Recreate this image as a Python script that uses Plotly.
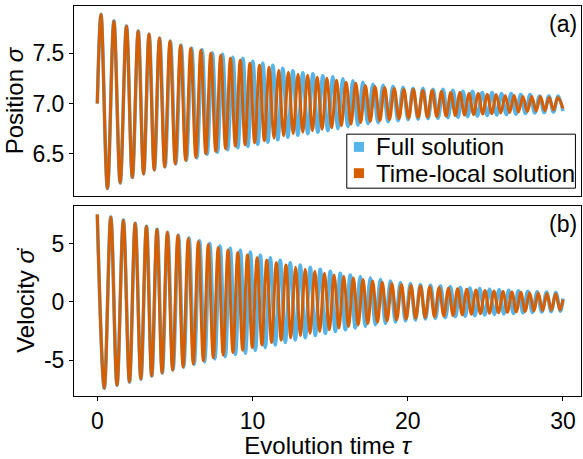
import plotly.graph_objects as go
from plotly.subplots import make_subplots

# ---------------- data: turning points ----------------
# Position, time-local solution (orange)
pos_local_peak_t = [0.24, 1.07, 1.88, 2.63, 3.33, 4.00, 4.68, 5.36, 6.02, 6.67, 7.31, 7.95, 8.58, 9.21, 9.83, 10.45, 11.07, 11.69, 12.31, 12.93, 13.55, 14.17, 14.79, 15.41, 16.03, 16.65, 17.27, 17.89, 18.51, 19.13, 19.75, 20.36, 20.97, 21.57, 22.17, 22.77, 23.36, 23.95, 24.54, 25.12, 25.70, 26.28, 26.85, 27.42, 27.99, 28.55, 29.11, 29.67]
pos_local_peak_v = [7.887, 7.82, 7.77, 7.72, 7.69, 7.65, 7.62, 7.58, 7.55, 7.53, 7.50, 7.48, 7.45, 7.43, 7.40, 7.38, 7.36, 7.33, 7.31, 7.29, 7.28, 7.26, 7.25, 7.23, 7.21, 7.20, 7.18, 7.17, 7.16, 7.15, 7.14, 7.14, 7.13, 7.13, 7.12, 7.11, 7.11, 7.10, 7.10, 7.09, 7.09, 7.08, 7.08, 7.07, 7.07, 7.07, 7.06, 7.06]
pos_local_trough_t = [0.655, 1.475, 2.255, 2.98, 3.665, 4.34, 5.02, 5.69, 6.345, 6.99, 7.63, 8.265, 8.895, 9.52, 10.14, 10.76, 11.38, 12.00, 12.62, 13.24, 13.86, 14.48, 15.10, 15.72, 16.34, 16.96, 17.58, 18.20, 18.82, 19.44, 20.055, 20.665, 21.27, 21.87, 22.47, 23.065, 23.655, 24.245, 24.83, 25.41, 25.99, 26.565, 27.135, 27.705, 28.27, 28.83, 29.39]
pos_local_trough_v = [6.156, 6.21, 6.265, 6.30, 6.34, 6.37, 6.40, 6.435, 6.465, 6.50, 6.525, 6.55, 6.575, 6.59, 6.61, 6.63, 6.655, 6.68, 6.70, 6.715, 6.73, 6.745, 6.76, 6.78, 6.795, 6.81, 6.82, 6.83, 6.84, 6.85, 6.855, 6.86, 6.865, 6.87, 6.875, 6.88, 6.885, 6.89, 6.895, 6.90, 6.905, 6.91, 6.915, 6.92, 6.925, 6.93, 6.935]
pos_local_end_t = [0.0, 30.0]
pos_local_end_v = [7.0, 6.95]

# Position, full solution (blue)
pos_full_peak_t = [0.24, 1.07, 1.88, 2.64, 3.34, 4.02, 4.71, 5.40, 6.08, 6.75, 7.41, 8.07, 8.73, 9.38, 10.02, 10.66, 11.31, 11.95, 12.60, 13.24, 13.89, 14.53, 15.18, 15.82, 16.47, 17.11, 17.76, 18.41, 19.05, 19.70, 20.34, 20.98, 21.63, 22.27, 22.91, 23.55, 24.17, 24.80, 25.43, 26.04, 26.66, 27.28, 27.88, 28.49, 29.09, 29.69]
pos_full_peak_v = [7.887, 7.82, 7.77, 7.72, 7.69, 7.65, 7.62, 7.58, 7.55, 7.535, 7.505, 7.49, 7.46, 7.45, 7.42, 7.40, 7.38, 7.35, 7.325, 7.305, 7.295, 7.275, 7.265, 7.245, 7.225, 7.21, 7.19, 7.18, 7.17, 7.16, 7.15, 7.15, 7.14, 7.14, 7.13, 7.12, 7.12, 7.11, 7.11, 7.10, 7.10, 7.09, 7.09, 7.075, 7.075, 7.075]
pos_full_trough_t = [0.655, 1.475, 2.26, 2.99, 3.68, 4.365, 5.055, 5.74, 6.415, 7.08, 7.74, 8.40, 9.055, 9.70, 10.34, 10.985, 11.63, 12.275, 12.92, 13.565, 14.21, 14.855, 15.50, 16.145, 16.79, 17.435, 18.085, 18.73, 19.375, 20.02, 20.66, 21.305, 21.95, 22.59, 23.23, 23.86, 24.485, 25.115, 25.735, 26.35, 26.97, 27.58, 28.185, 28.79, 29.39]
pos_full_trough_v = [6.156, 6.21, 6.265, 6.30, 6.34, 6.37, 6.40, 6.435, 6.46, 6.495, 6.515, 6.54, 6.56, 6.574, 6.594, 6.615, 6.64, 6.665, 6.685, 6.70, 6.715, 6.73, 6.75, 6.77, 6.785, 6.80, 6.81, 6.82, 6.83, 6.84, 6.845, 6.85, 6.855, 6.86, 6.865, 6.87, 6.875, 6.88, 6.885, 6.89, 6.895, 6.90, 6.905, 6.91, 6.915]
pos_full_end_t = [0.0, 30.0]
pos_full_end_v = [7.0, 6.925]

# Velocity, time-local solution (orange)
vel_local_peak_t = [0.87, 1.68, 2.44, 3.16, 3.84, 4.51, 5.19, 5.86, 6.51, 7.15, 7.79, 8.42, 9.05, 9.675, 10.295, 10.915, 11.535, 12.155, 12.775, 13.395, 14.015, 14.635, 15.255, 15.875, 16.495, 17.115, 17.735, 18.355, 18.975, 19.595, 20.21, 20.82, 21.42, 22.02, 22.62, 23.21, 23.80, 24.39, 24.975, 25.555, 26.135, 26.71, 27.28, 27.85, 28.41, 28.97, 29.53]
vel_local_peak_v = [7.29, 7.02, 6.76, 6.50, 6.24, 5.98, 5.72, 5.45, 5.18, 4.93, 4.68, 4.45, 4.25, 4.05, 3.80, 3.58, 3.37, 3.17, 2.98, 2.80, 2.63, 2.47, 2.32, 2.18, 2.05, 1.92, 1.80, 1.69, 1.58, 1.49, 1.42, 1.36, 1.30, 1.24, 1.18, 1.13, 1.08, 1.03, 0.98, 0.94, 0.90, 0.86, 0.82, 0.79, 0.76, 0.73, 0.70]
vel_local_trough_t = [0.45, 1.27, 2.07, 2.805, 3.50, 4.17, 4.85, 5.525, 6.18, 6.83, 7.47, 8.11, 8.74, 9.365, 9.985, 10.605, 11.225, 11.845, 12.465, 13.085, 13.705, 14.325, 14.945, 15.565, 16.185, 16.805, 17.425, 18.045, 18.665, 19.285, 19.90, 20.51, 21.12, 21.72, 22.32, 22.92, 23.51, 24.10, 24.685, 25.265, 25.845, 26.42, 26.99, 27.56, 28.13, 28.69, 29.25, 29.81]
vel_local_trough_v = [-7.42, -7.15, -6.88, -6.62, -6.36, -6.10, -5.85, -5.58, -5.32, -5.06, -4.80, -4.56, -4.34, -4.15, -3.92, -3.70, -3.48, -3.28, -3.08, -2.90, -2.72, -2.55, -2.40, -2.25, -2.11, -1.98, -1.85, -1.74, -1.63, -1.53, -1.46, -1.39, -1.33, -1.27, -1.21, -1.16, -1.11, -1.06, -1.01, -0.97, -0.93, -0.89, -0.85, -0.82, -0.78, -0.75, -0.72, -0.70]
vel_local_end_t = [0.0, 30.0]
vel_local_end_v = [7.51, 0.2]

# Velocity, full solution (blue)
vel_full_peak_t = [0.87, 1.68, 2.445, 3.17, 3.855, 4.535, 5.225, 5.91, 6.585, 7.245, 7.905, 8.56, 9.215, 9.86, 10.50, 11.145, 11.785, 12.43, 13.075, 13.72, 14.365, 15.01, 15.655, 16.30, 16.945, 17.59, 18.24, 18.885, 19.53, 20.175, 20.815, 21.465, 22.105, 22.745, 23.385, 24.01, 24.635, 25.265, 25.885, 26.505, 27.125, 27.73, 28.335, 28.94, 29.54]
vel_full_peak_v = [7.29, 7.02, 6.76, 6.50, 6.24, 5.98, 5.75, 5.50, 5.26, 5.03, 4.82, 4.63, 4.46, 4.29, 4.03, 3.79, 3.57, 3.36, 3.16, 2.97, 2.79, 2.62, 2.46, 2.31, 2.17, 2.04, 1.91, 1.79, 1.67, 1.58, 1.50, 1.44, 1.38, 1.31, 1.25, 1.20, 1.14, 1.09, 1.04, 1.00, 0.95, 0.91, 0.87, 0.84, 0.80]
vel_full_trough_t = [0.45, 1.27, 2.073, 2.813, 3.512, 4.19, 4.88, 5.565, 6.24, 6.915, 7.575, 8.24, 8.895, 9.54, 10.18, 10.82, 11.465, 12.11, 12.755, 13.40, 14.045, 14.69, 15.335, 15.98, 16.625, 17.27, 17.915, 18.565, 19.21, 19.855, 20.495, 21.135, 21.785, 22.425, 23.065, 23.70, 24.325, 24.955, 25.58, 26.195, 26.815, 27.425, 28.03, 28.635, 29.24, 29.835]
vel_full_trough_v = [-7.42, -7.15, -6.88, -6.62, -6.36, -6.10, -5.85, -5.61, -5.37, -5.14, -4.90, -4.70, -4.51, -4.40, -4.16, -3.92, -3.69, -3.48, -3.26, -3.07, -2.88, -2.70, -2.54, -2.39, -2.24, -2.10, -1.96, -1.84, -1.73, -1.62, -1.55, -1.47, -1.41, -1.35, -1.28, -1.23, -1.18, -1.12, -1.07, -1.03, -0.99, -0.94, -0.90, -0.87, -0.83, -0.80]
vel_full_end_t = [0.0, 30.0]
vel_full_end_v = [7.51, 0.3]

x_tick_vals = [0, 10, 20, 30]
pos_tick_vals = [6.5, 7.0, 7.5]
pos_tick_text = ["6.5", "7.0", "7.5"]
vel_tick_vals = [-5, 0, 5]
vel_tick_text = ["-5", "0", "5"]
legend_labels = ["Full solution", "Time-local solution"]


def merge(*pairs):
    pts = []
    for t, v in pairs:
        pts.extend(zip(t, v))
    pts.sort(key=lambda p: p[0])
    return [p[0] for p in pts], [p[1] for p in pts]


BLUE = "#56B4E9"
ORANGE = "#D55E00"
FONT = "Liberation Sans, Arial, sans-serif"
FS = 23

fig = make_subplots(rows=2, cols=1, vertical_spacing=0.0248)

series = [
    (1, BLUE, 3.6, merge((pos_full_peak_t, pos_full_peak_v), (pos_full_trough_t, pos_full_trough_v), (pos_full_end_t, pos_full_end_v))),
    (1, ORANGE, 3.0, merge((pos_local_peak_t, pos_local_peak_v), (pos_local_trough_t, pos_local_trough_v), (pos_local_end_t, pos_local_end_v))),
    (2, BLUE, 3.6, merge((vel_full_peak_t, vel_full_peak_v), (vel_full_trough_t, vel_full_trough_v), (vel_full_end_t, vel_full_end_v))),
    (2, ORANGE, 3.0, merge((vel_local_peak_t, vel_local_peak_v), (vel_local_trough_t, vel_local_trough_v), (vel_local_end_t, vel_local_end_v))),
]
for row, color, w, (xs, ys) in series:
    fig.add_trace(go.Scatter(x=xs, y=ys, mode="lines", line=dict(color=color, width=w, shape="spline", smoothing=1.0),
                             showlegend=False, hoverinfo="skip"), row=row, col=1)

tfont = dict(size=FS, color="black", family=FONT)
axis_common = dict(showline=True, linecolor="black", linewidth=1, mirror=True, showgrid=False, zeroline=False,
                   ticks="outside", ticklen=4, tickcolor="black", tickfont=tfont)

fig.update_xaxes(range=[-1.5, 31.16], **axis_common)
fig.update_xaxes(ticks="", showticklabels=False, row=1, col=1)
fig.update_xaxes(tickvals=x_tick_vals, title=dict(text="Evolution time <i>τ</i>", font=dict(size=24, family=FONT, color="black"), standoff=3), row=2, col=1)
fig.update_yaxes(**axis_common)
fig.update_yaxes(range=[6.079, 7.969], tickvals=pos_tick_vals, ticktext=pos_tick_text,
                 title=dict(text="Position <i>σ</i>", font=dict(size=24, family=FONT, color="black"), standoff=2), row=1, col=1)
fig.update_yaxes(range=[-8.08, 8.25], tickvals=vel_tick_vals, ticktext=vel_tick_text,
                 title=dict(text="Velocity <i>σ̇</i>", font=dict(size=24, family=FONT, color="black"), standoff=2), row=2, col=1)

fig.add_annotation(text="(a)", xref="x domain", yref="y domain", x=0.996, y=0.985, xanchor="right", yanchor="top",
                   showarrow=False, font=dict(size=23, family=FONT, color="black"))
fig.add_annotation(text="(b)", xref="x2 domain", yref="y2 domain", x=0.996, y=0.985, xanchor="right", yanchor="top",
                   showarrow=False, font=dict(size=23, family=FONT, color="black"))

# legend box drawn in the top panel
fig.add_shape(type="rect", xref="x domain", yref="y domain", x0=0.538, x1=0.989, y0=0.042, y1=0.326,
              line=dict(color="black", width=1), fillcolor="white", layer="above")
for (y0, y1, yc, color, label) in [(0.233, 0.285, 0.259, BLUE, legend_labels[0]), (0.095, 0.147, 0.121, ORANGE, legend_labels[1])]:
    fig.add_shape(type="rect", xref="x domain", yref="y domain", x0=0.552, x1=0.572, y0=y0, y1=y1,
                  line=dict(width=0), fillcolor=color, layer="above")
    fig.add_annotation(text=label, xref="x domain", yref="y domain", x=0.591, y=yc, xanchor="left", yanchor="middle",
                       showarrow=False, font=dict(size=24, family=FONT, color="black"))

fig.update_layout(
    width=583, height=459,
    margin=dict(l=74, r=1.5, t=5.7, b=63),
    paper_bgcolor="white", plot_bgcolor="white",
    font=dict(family=FONT, size=FS, color="black"),
    showlegend=False,
)

fig.write_html("out.html")
